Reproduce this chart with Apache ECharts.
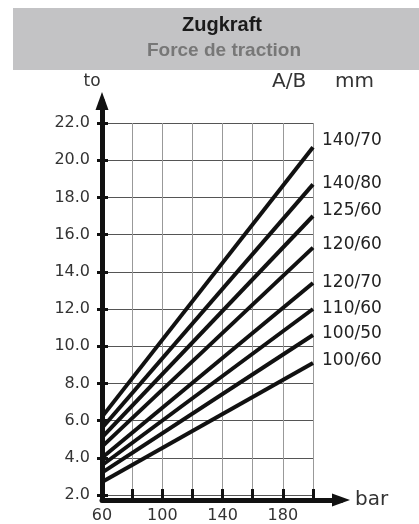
<!DOCTYPE html>
<html><head><meta charset="utf-8">
<script src="https://cdn.jsdelivr.net/npm/echarts@6/dist/echarts.min.js"></script>
<style>html,body{margin:0;padding:0;background:#fff}#c{width:419px;height:524px}</style>
</head><body><div id="c"></div>
<script>
const seriesNames = ['140/70','140/80','125/60','120/60','120/70','110/60','100/50','100/60'];
const pressure = [60, 200];
const f_140_70 = [6.2, 20.7];
const f_140_80 = [5.6, 18.7];
const f_125_60 = [5.1, 17.0];
const f_120_60 = [4.6, 15.3];
const f_120_70 = [4.0, 13.4];
const f_110_60 = [3.6, 12.0];
const f_100_50 = [3.2, 10.6];
const f_100_60 = [2.7, 9.1];
const seriesValues = [f_140_70, f_140_80, f_125_60, f_120_60, f_120_70, f_110_60, f_100_50, f_100_60];
const labelShift = [-7, -1, -5, -3, 0, 0, -1, -2];
const xLabels = [60, 100, 140, 180];

const FONT = 'DejaVu Sans';
const chart = echarts.init(document.getElementById('c'));
const G = {left: 102, right: 106, top: 123, bottom: 24};
const series = seriesNames.map((n, i) => ({
  name: n, type: 'line', xAxisIndex: 0, yAxisIndex: 0,
  data: pressure.map((p, j) => [p, seriesValues[i][j]]),
  symbol: 'none', silent: true,
  lineStyle: {color: '#111', width: 4},
  endLabel: {show: true, formatter: '{a}', distance: 9, offset: [0, labelShift[i]],
    fontFamily: FONT, fontSize: 17, color: '#222'}
}));
chart.setOption({
  animation: false,
  grid: [G, {left: 102, right: 78, top: 101, bottom: 24}],
  xAxis: [
    {type: 'value', gridIndex: 0, min: 60, max: 200, interval: 20,
      axisLine: {show: false}, axisTick: {show: true, length: 6, lineStyle: {color: '#111', width: 3}},
      splitLine: {show: true, lineStyle: {color: '#999', width: 1}},
      axisLabel: {margin: 13, fontFamily: FONT, fontSize: 16, color: '#333',
        formatter: v => xLabels.includes(v) ? String(v) : ''}},
    {type: 'value', gridIndex: 0, min: 60, max: 200, interval: 20, position: 'bottom',
      axisLine: {show: false}, axisTick: {show: true, inside: true, length: 6, lineStyle: {color: '#111', width: 3}},
      splitLine: {show: false}, axisLabel: {show: false}},
    {type: 'value', gridIndex: 1, min: 0, max: 1, axisTick: {show: false}, axisLabel: {show: false},
      splitLine: {show: false}, name: 'bar', nameLocation: 'end', nameGap: 14,
      nameTextStyle: {fontFamily: FONT, fontSize: 20, color: '#333', verticalAlign: 'middle'},
      axisLine: {show: true, lineStyle: {color: '#111', width: 5}, symbol: ['none', 'triangle'], symbolSize: [13, 18]}}
  ],
  yAxis: [
    {type: 'value', gridIndex: 0, min: 2, max: 22, interval: 2,
      axisLine: {show: false}, axisTick: {show: true, length: 5, lineStyle: {color: '#111', width: 3}},
      splitLine: {show: true, lineStyle: {color: '#555', width: 1}},
      axisLabel: {margin: 12, fontFamily: FONT, fontSize: 16, color: '#333', formatter: v => v.toFixed(1)}},
    {type: 'value', gridIndex: 0, min: 2, max: 22, interval: 2, position: 'left',
      axisLine: {show: false}, axisTick: {show: true, inside: true, length: 6, lineStyle: {color: '#111', width: 3}},
      splitLine: {show: false}, axisLabel: {show: false}},
    {type: 'value', gridIndex: 1, min: 0, max: 1, axisTick: {show: false}, axisLabel: {show: false},
      splitLine: {show: false},
      axisLine: {show: true, lineStyle: {color: '#111', width: 5}, symbol: ['none', 'triangle'], symbolSize: [13, 18]}}
  ],
  graphic: [
    {type: 'rect', left: 13, top: 8, shape: {width: 406, height: 62}, style: {fill: '#c3c3c5'}, z: -1},
    {type: 'text', x: 222, y: 25, style: {text: 'Zugkraft', fontFamily: "'Liberation Sans Narrow','Liberation Sans',Arial", fontWeight: 'bold', fontSize: 20, fill: '#1a1a1a', align: 'center', verticalAlign: 'middle'}},
    {type: 'text', x: 224, y: 51, style: {text: 'Force de traction', fontFamily: "'Liberation Sans Narrow','Liberation Sans',Arial", fontWeight: 'bold', fontSize: 19, fill: '#777', align: 'center', verticalAlign: 'middle'}},
    {type: 'text', x: 92, y: 82, style: {text: 'to', fontFamily: FONT, fontSize: 17, fill: '#333', align: 'center', verticalAlign: 'middle'}},
    {type: 'text', x: 272, y: 82, style: {text: 'A/B', fontFamily: FONT, fontSize: 20, fill: '#333', align: 'left', verticalAlign: 'middle'}},
    {type: 'text', x: 374, y: 82, style: {text: 'mm', fontFamily: FONT, fontSize: 20, fill: '#333', align: 'right', verticalAlign: 'middle'}}
  ],
  series: series
});
</script></body></html>
